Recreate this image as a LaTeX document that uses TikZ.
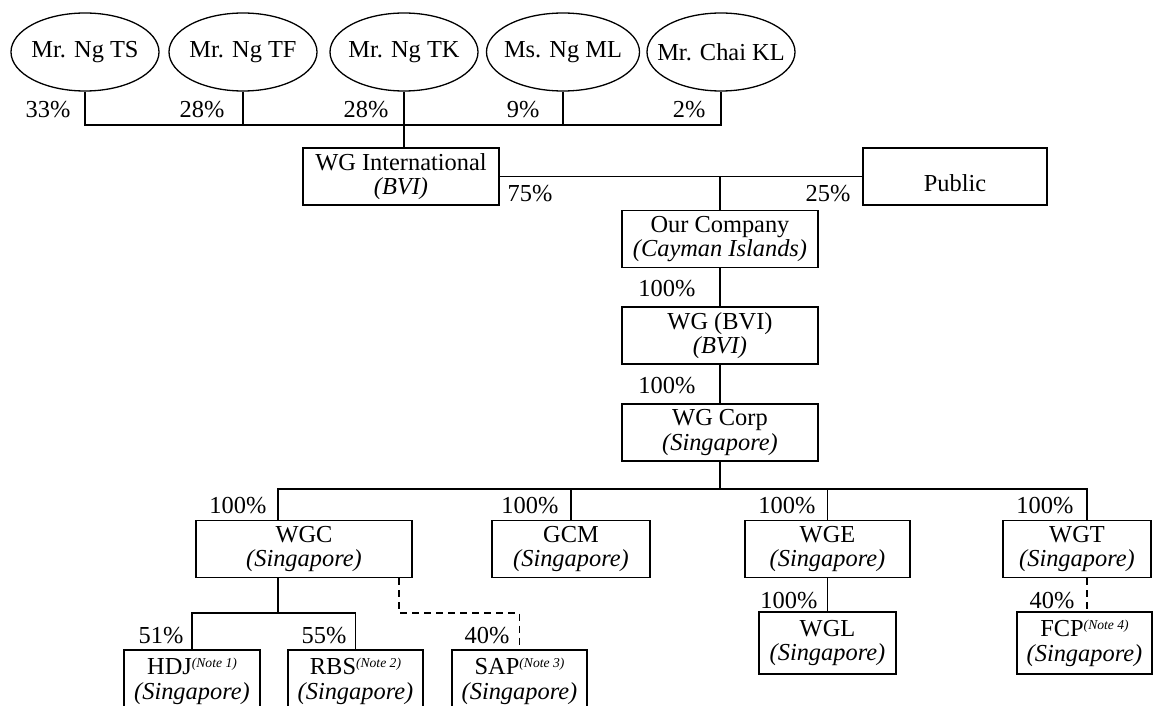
\documentclass[tikz,border=0pt]{standalone}
\usepackage{fontspec}
\setmainfont{Liberation Serif}
\usetikzlibrary{shapes.geometric}
\newcommand{\pname}[1]{\makebox[30pt]{#1}}
\newcommand{\notemark}[1]{\raisebox{3.8pt}{\fontsize{6.8}{7}\selectfont\itshape (Note #1)}}

\begin{document}
\begin{tikzpicture}[x=0.5pt,y=-0.5pt,font=\fontsize{12.2}{12.2}\selectfont,line width=0.65pt]
\tikzstyle{own}=[draw,ellipse,minimum width=74pt,minimum height=39pt,inner sep=0pt]
\tikzstyle{co}=[draw,minimum width=98pt,minimum height=28.5pt,inner sep=0pt,align=center,execute at begin node=\rule{0pt}{11pt}]
\tikzstyle{pl}=[inner sep=0pt,anchor=east]
\tikzstyle{pr}=[inner sep=0pt,anchor=west]
\tikzstyle{jv}=[dash pattern=on 3.5pt off 2.5pt]
\useasboundingbox (0,0) rectangle (1153,706);
\clip (0,0) rectangle (1153,706);
\node[own] (ts) at (85,52) {\pname{Mr. Ng TS}};
\node[own] (tf) at (243,52) {\pname{Mr. Ng TF}};
\node[own] (tk) at (404,52) {\pname{Mr. Ng TK}};
\node[own,minimum width=76.5pt] (ml) at (563,52) {\pname{Ms. Ng ML}};
\node[own] (kl) at (721,52) {\pname{Mr. Chai KL}};
\coordinate (bar) at (404,125);
\draw (ts.south) |- (bar) -| (kl.south);
\draw (tf.south) -- (tf.south |- bar);
\draw (ml.south) -- (ml.south |- bar);
\node[pl] (p33) at (71,110) {33\%};
\node[pl] (p28a) at (225,110) {28\%};
\node[pl] (p28b) at (389,110) {28\%};
\node[pl] (p9) at (540,110) {9\%};
\node[pl] (p2) at (706,110) {2\%};
\node[co] (wgi) at (401,176.5) {WG International\\\textit{(BVI)}};
\node[co,minimum width=92pt,text height=15pt] (pub) at (955,176.5) {Public};
\draw (tk.south) -- (tk.south |- wgi.north);
\draw (wgi.east) -- (pub.west);
\coordinate (j1) at (720,176.5);
\node[co] (oc) at (720,239) {Our Company\\\textit{(Cayman Islands)}};
\draw (j1) -- (oc.north);
\node[pr] (p75) at (507,194) {75\%};
\node[pl] (p25) at (851,194) {25\%};
\node[co] (wgbvi) at (720,335.5) {WG (BVI)\\\textit{(BVI)}};
\node[co] (wgcorp) at (720,432.5) {WG Corp\\\textit{(Singapore)}};
\draw (oc.south) -- (wgbvi.north);
\draw (wgbvi.south) -- (wgcorp.north);
\node[pl] (p100a) at (696,289) {100\%};
\node[pl] (p100b) at (696,386) {100\%};
\node[co,minimum width=108pt] (wgc) at (304,549) {WGC\\\textit{(Singapore)}};
\node[co,minimum width=79pt] (gcm) at (571,549) {GCM\\\textit{(Singapore)}};
\node[co,minimum width=82.5pt] (wge) at (827.5,549) {WGE\\\textit{(Singapore)}};
\node[co,minimum width=74pt] (wgt) at (1077,549) {WGT\\\textit{(Singapore)}};
\coordinate (bl) at (278,489);
\coordinate (br) at (1087,489);
\draw (bl |- wgc.north) -- (bl) -- (br) -- (br |- wgt.north);
\draw (wgcorp.south) -- (wgcorp.south |- bl);
\draw (gcm.north) -- (gcm.north |- bl);
\draw (wge.north) -- (wge.north |- bl);
\node[pl] (p100c) at (267,506) {100\%};
\node[pl] (p100d) at (559,506) {100\%};
\node[pl] (p100e) at (816,506) {100\%};
\node[pl] (p100f) at (1074,506) {100\%};
\node[co,minimum width=68.5pt,minimum height=31pt] (wgl) at (827.5,643) {WGL\\\textit{(Singapore)}};
\node[co,minimum width=67.5pt,minimum height=31pt] (fcp) at (1084.5,643) {FCP\notemark{4}\\\textit{(Singapore)}};
\draw (wge.south) -- (wgl.north);
\draw[jv] (wgt.south -| br) -- (fcp.north -| br);
\node[pl] (p100g) at (818,601) {100\%};
\node[pl] (p40a) at (1075,601) {40\%};
\node[co,minimum width=68pt,minimum height=31pt] (hdj) at (192,681) {HDJ\notemark{1}\\\textit{(Singapore)}};
\node[co,minimum width=67.5pt,minimum height=31pt] (rbs) at (355.5,681) {RBS\notemark{2}\\\textit{(Singapore)}};
\node[co,minimum width=67.5pt,minimum height=31pt] (sap) at (519.5,681) {SAP\notemark{3}\\\textit{(Singapore)}};
\coordinate (k) at (278,613);
\coordinate (dv) at (399,613);
\draw (wgc.south -| k) -- (k);
\draw (hdj.north) |- (k) -| (rbs.north);
\draw[jv] (wgc.south -| dv) -- (dv) -| (sap.north);
\node[pl] (p51) at (184,636) {51\%};
\node[pl] (p55) at (347,636) {55\%};
\node[pl] (p40b) at (510,636) {40\%};
\end{tikzpicture}
\end{document}
